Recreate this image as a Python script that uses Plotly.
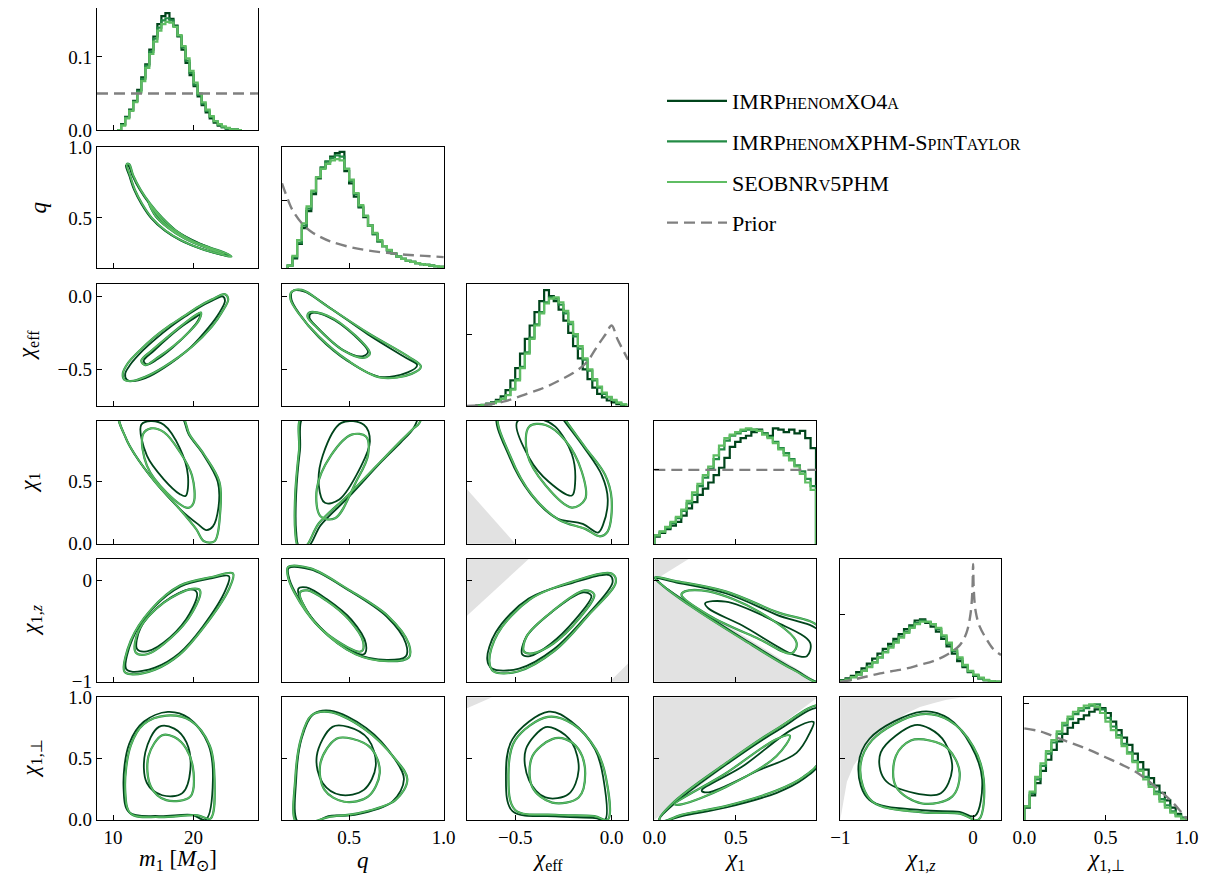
import plotly.graph_objects as go

# ------------------------------------------------------------------ data
MODELS = ["IMRPhenomXO4a", "IMRPhenomXPHM-SpinTaylor", "SEOBNRv5PHM"]
LEGEND_TEXT = [
    'IMRP<span style="font-size:16px">HENOM</span>XO4<span style="font-size:16px">A</span>',
    'IMRP<span style="font-size:16px">HENOM</span>XPHM-S<span style="font-size:16px">PIN</span>T<span style="font-size:16px">AYLOR</span>',
    'SEOBNR<span style="font-size:16px">V</span>5PHM',
]
COLORS = ["#00441b", "#238b45", "#5fbd63"]
PRIOR_COLOR = "#808080"
SHADE_COLOR = "#e2e2e2"

PARAMS = ["m1", "q", "chi_eff", "chi1", "chi1z", "chi1perp"]
LABELS = ["<i>m</i><sub>1</sub> [<i>M</i><sub>⊙</sub>]", "<i>q</i>", "<i>χ</i><sub>eff</sub>",
          "<i>χ</i><sub>1</sub>", "<i>χ</i><sub>1,<i>z</i></sub>", "<i>χ</i><sub>1,⊥</sub>"]
RANGE = {"m1": [8, 28], "q": [0.145, 1.002], "chi_eff": [-0.75, 0.085],
         "chi1": [-0.002, 0.99], "chi1z": [-1.002, 0.21], "chi1perp": [-0.002, 1.002]}
TICKS = {"m1": [10, 20], "q": [0.5, 1.0], "chi_eff": [-0.5, 0.0], "chi1": [0.0, 0.5],
         "chi1z": [-1, 0], "chi1perp": [0.0, 0.5, 1.0]}
TICKTEXT = {"m1": ["10", "20"], "q": ["0.5", "1.0"], "chi_eff": ["−0.5", "0.0"],
            "chi1": ["0.0", "0.5"], "chi1z": ["−1", "0"], "chi1perp": ["0.0", "0.5", "1.0"]}

# 1-D histograms (bin start, bin width, heights per model)
M1_BIN = (10.5, 0.5)
M1_A = [0.0, 0.008, 0.018, 0.028, 0.040, 0.055, 0.072, 0.090, 0.110, 0.128, 0.145, 0.156, 0.160, 0.152, 0.143, 0.128,
        0.110, 0.092, 0.075, 0.060, 0.046, 0.034, 0.024, 0.016, 0.010, 0.006, 0.004, 0.002, 0.001, 0.0005, 0.0]
M1_B = [0.0, 0.007, 0.017, 0.027, 0.039, 0.053, 0.070, 0.088, 0.107, 0.125, 0.140, 0.150, 0.153, 0.150, 0.142, 0.129,
        0.113, 0.095, 0.078, 0.062, 0.048, 0.036, 0.026, 0.018, 0.012, 0.007, 0.004, 0.002, 0.001, 0.0005, 0.0]
M1_C = [0.0, 0.006, 0.016, 0.026, 0.038, 0.051, 0.067, 0.085, 0.104, 0.121, 0.136, 0.145, 0.148, 0.147, 0.141, 0.130,
        0.115, 0.098, 0.081, 0.065, 0.050, 0.038, 0.028, 0.019, 0.012, 0.008, 0.005, 0.003, 0.001, 0.0005, 0.0]
M1_PRIOR_X = [8, 28]
M1_PRIOR_Y = [0.05, 0.05]

Q_BIN = (0.175, 0.025)
Q_A = [0.02, 0.08, 0.20, 0.33, 0.47, 0.61, 0.74, 0.83, 0.88, 0.92, 0.95, 0.96, 0.80, 0.70, 0.59, 0.50, 0.42,
       0.35, 0.28, 0.22, 0.18, 0.145, 0.12, 0.095, 0.075, 0.06, 0.05, 0.04, 0.032, 0.026, 0.02, 0.015, 0.01]
Q_B = [0.02, 0.09, 0.21, 0.35, 0.49, 0.63, 0.75, 0.83, 0.88, 0.91, 0.93, 0.92, 0.82, 0.72, 0.61, 0.51, 0.43,
       0.35, 0.28, 0.22, 0.18, 0.145, 0.12, 0.095, 0.075, 0.06, 0.05, 0.04, 0.032, 0.026, 0.02, 0.015, 0.01]
Q_C = [0.02, 0.10, 0.23, 0.37, 0.51, 0.64, 0.75, 0.82, 0.86, 0.89, 0.90, 0.89, 0.82, 0.73, 0.62, 0.52, 0.43,
       0.35, 0.29, 0.23, 0.18, 0.15, 0.12, 0.095, 0.075, 0.06, 0.05, 0.04, 0.032, 0.026, 0.02, 0.015, 0.01]
Q_PRIOR_X = [0.145, 0.18, 0.2, 0.25, 0.3, 0.35, 0.4, 0.5, 0.6, 0.7, 0.8, 0.9, 1.0]
Q_PRIOR_Y = [0.70, 0.55, 0.48, 0.37, 0.30, 0.255, 0.22, 0.175, 0.145, 0.125, 0.11, 0.10, 0.09]

CE_BIN = (-0.725, 0.025)
CE_A = [0.0, 0.005, 0.01, 0.02, 0.03, 0.05, 0.08, 0.13, 0.21, 0.31, 0.43, 0.55, 0.66, 0.77, 0.86, 0.95,
        0.90, 0.86, 0.79, 0.70, 0.60, 0.49, 0.39, 0.30, 0.22, 0.15, 0.10, 0.07, 0.045, 0.03, 0.015, 0.008]
CE_B = [0.0, 0.004, 0.008, 0.015, 0.025, 0.04, 0.06, 0.09, 0.14, 0.22, 0.32, 0.44, 0.56, 0.67, 0.77, 0.85,
        0.89, 0.88, 0.83, 0.76, 0.67, 0.57, 0.47, 0.38, 0.29, 0.21, 0.15, 0.10, 0.07, 0.045, 0.025, 0.012]
CE_C = [0.0, 0.004, 0.008, 0.014, 0.024, 0.038, 0.058, 0.088, 0.135, 0.21, 0.31, 0.43, 0.55, 0.66, 0.76, 0.84,
        0.88, 0.89, 0.85, 0.78, 0.69, 0.59, 0.49, 0.39, 0.30, 0.22, 0.16, 0.11, 0.075, 0.05, 0.028, 0.014]
CE_PRIOR_X = [-0.75, -0.65, -0.55, -0.44, -0.35, -0.27, -0.2, -0.134, -0.066, -0.03, 0.0, 0.03, 0.085]
CE_PRIOR_Y = [0.0, 0.01, 0.04, 0.10, 0.15, 0.21, 0.27, 0.35, 0.51, 0.59, 0.66, 0.55, 0.38]

C1_BIN = (0.0, 0.033)
C1_A = [0.06, 0.09, 0.12, 0.15, 0.18, 0.23, 0.29, 0.34, 0.40, 0.45, 0.50, 0.56, 0.62, 0.70, 0.79,
        0.83, 0.86, 0.88, 0.91, 0.93, 0.90, 0.88, 0.94, 0.93, 0.91, 0.93, 0.90, 0.92, 0.86, 0.78]
C1_B = [0.07, 0.10, 0.13, 0.17, 0.21, 0.27, 0.33, 0.40, 0.47, 0.54, 0.61, 0.69, 0.77, 0.84, 0.88,
        0.90, 0.92, 0.93, 0.93, 0.92, 0.90, 0.87, 0.83, 0.78, 0.74, 0.69, 0.64, 0.59, 0.53, 0.47]
C1_C = [0.07, 0.10, 0.14, 0.18, 0.22, 0.28, 0.35, 0.42, 0.49, 0.56, 0.63, 0.72, 0.80, 0.86, 0.89,
        0.91, 0.93, 0.94, 0.93, 0.92, 0.89, 0.86, 0.82, 0.77, 0.72, 0.68, 0.63, 0.57, 0.50, 0.44]
C1_PRIOR_X = [0.0, 0.99]
C1_PRIOR_Y = [0.603, 0.603]

CZ_BIN = (-1.0, 0.04)
CZ_A = [0.015, 0.03, 0.05, 0.08, 0.11, 0.15, 0.19, 0.23, 0.27, 0.31, 0.35, 0.39, 0.43, 0.46, 0.50,
        0.51, 0.48, 0.45, 0.41, 0.35, 0.29, 0.23, 0.17, 0.12, 0.08, 0.05, 0.03, 0.015, 0.006, 0.002]
CZ_B = [0.01, 0.02, 0.04, 0.06, 0.09, 0.125, 0.16, 0.20, 0.245, 0.29, 0.33, 0.37, 0.41, 0.45, 0.48,
        0.50, 0.49, 0.47, 0.43, 0.37, 0.31, 0.25, 0.19, 0.13, 0.085, 0.055, 0.03, 0.015, 0.006, 0.002]
CZ_C = [0.01, 0.02, 0.04, 0.06, 0.09, 0.12, 0.16, 0.20, 0.24, 0.28, 0.32, 0.36, 0.40, 0.44, 0.47,
        0.49, 0.49, 0.47, 0.44, 0.38, 0.32, 0.26, 0.20, 0.14, 0.09, 0.06, 0.035, 0.018, 0.008, 0.003]
CZ_PRIOR_X = [-1.0, -0.9, -0.8, -0.7, -0.6, -0.5, -0.4, -0.3, -0.2, -0.1, -0.05, -0.02, -0.005, 0.0,
              0.005, 0.02, 0.05, 0.1, 0.15, 0.21]
CZ_PRIOR_Y = [0.0, 0.02, 0.045, 0.07, 0.09, 0.11, 0.14, 0.17, 0.22, 0.30, 0.40, 0.55, 0.75, 0.96,
              0.75, 0.57, 0.45, 0.35, 0.27, 0.22]

CP_BIN = (0.0, 0.0333)
CP_A = [0.10, 0.20, 0.30, 0.40, 0.49, 0.57, 0.64, 0.70, 0.75, 0.79, 0.82, 0.85, 0.88, 0.90, 0.91,
        0.87, 0.80, 0.73, 0.67, 0.61, 0.54, 0.47, 0.41, 0.34, 0.28, 0.22, 0.16, 0.10, 0.05, 0.02]
CP_B = [0.11, 0.22, 0.33, 0.44, 0.54, 0.63, 0.70, 0.77, 0.82, 0.86, 0.89, 0.91, 0.93, 0.94, 0.90,
        0.83, 0.76, 0.69, 0.62, 0.55, 0.48, 0.41, 0.35, 0.29, 0.23, 0.17, 0.12, 0.07, 0.035, 0.015]
CP_C = [0.11, 0.23, 0.35, 0.46, 0.56, 0.65, 0.72, 0.79, 0.84, 0.88, 0.91, 0.93, 0.94, 0.92, 0.87,
        0.80, 0.73, 0.67, 0.60, 0.54, 0.47, 0.40, 0.33, 0.27, 0.21, 0.15, 0.10, 0.06, 0.03, 0.01]
CP_PRIOR_X = [0.0, 0.1, 0.2, 0.3, 0.4, 0.5, 0.6, 0.7, 0.8, 0.9, 0.95, 1.0]
CP_PRIOR_Y = [0.745, 0.72, 0.67, 0.62, 0.57, 0.51, 0.45, 0.38, 0.28, 0.16, 0.09, 0.01]

DIAG_TICK = [None, 0.556, 0.583, 0.603, 0.547, 0.944]

# 2-D credible contours (50% and 90%); A = XO4a, G = the two green models
M1_Q_A90 = [(11.6, 0.87), (12.0, 0.80), (12.6, 0.70), (13.5, 0.60), (14.7, 0.50), (16.4, 0.41), (18.4, 0.34), (21, 0.28), (23.4, 0.24), (24.5, 0.23), (23.9, 0.25), (22, 0.29), (19.8, 0.345), (17.7, 0.415), (16.0, 0.505), (14.5, 0.60), (13.3, 0.70), (12.4, 0.80), (11.9, 0.87)]
M1_Q_G90 = [(11.7, 0.88), (12.1, 0.80), (12.7, 0.70), (13.6, 0.60), (14.8, 0.50), (16.5, 0.41), (18.5, 0.34), (21, 0.28), (23.5, 0.24), (24.7, 0.225), (24.0, 0.25), (22, 0.29), (19.8, 0.34), (17.8, 0.41), (16.1, 0.50), (14.6, 0.60), (13.4, 0.70), (12.5, 0.80), (12.0, 0.88)]
M1_Q_A50 = [(14.5, 0.60), (15.3, 0.51), (16.9, 0.43), (19, 0.355), (21.5, 0.295), (23.6, 0.25), (22.5, 0.275), (20.1, 0.325), (17.9, 0.395), (16.2, 0.475), (15.0, 0.555)]
M1_Q_G50 = [(14.4, 0.61), (15.2, 0.52), (16.8, 0.43), (19, 0.35), (21.5, 0.29), (23.8, 0.245), (22.6, 0.27), (20.2, 0.32), (18, 0.39), (16.3, 0.47), (15.0, 0.56)]

M1_CE_A90 = [(11.5, -0.53), (12.1, -0.47), (13.7, -0.37), (15.4, -0.285), (17.1, -0.21), (18.9, -0.14), (20.7, -0.075), (22.3, -0.03), (23.6, 0.0), (23.9, -0.03), (23.1, -0.12), (21.9, -0.21), (19.6, -0.35), (16.3, -0.49), (14, -0.56), (12.4, -0.58), (11.7, -0.57)]
M1_CE_G90 = [(11.2, -0.53), (11.8, -0.46), (13.5, -0.36), (15.2, -0.275), (17, -0.2), (18.8, -0.135), (20.6, -0.07), (22.3, -0.02), (23.9, 0.015), (24.3, -0.02), (23.5, -0.11), (22.3, -0.205), (19.8, -0.344), (16.3, -0.483), (14, -0.55), (12.2, -0.58), (11.4, -0.57)]
M1_CE_A50 = [(13.8, -0.44), (15.1, -0.37), (16.8, -0.285), (18.7, -0.2), (20.3, -0.14), (20.8, -0.125), (20.5, -0.17), (19.3, -0.25), (17.4, -0.35), (15.5, -0.43), (14.2, -0.465)]
M1_CE_G50 = [(13.5, -0.44), (14.8, -0.37), (16.5, -0.29), (18.5, -0.2), (20.2, -0.13), (20.9, -0.11), (20.7, -0.16), (19.5, -0.24), (17.5, -0.34), (15.5, -0.42), (14.0, -0.47)]

Q_CE_A90 = [(0.20, 0.035), (0.26, 0.035), (0.39, -0.07), (0.60, -0.26), (0.80, -0.42), (0.86, -0.47), (0.81, -0.52), (0.66, -0.55), (0.49, -0.44), (0.34, -0.28), (0.235, -0.115), (0.195, -0.02)]
Q_CE_G90 = [(0.195, 0.03), (0.25, 0.045), (0.383, -0.066), (0.60, -0.25), (0.816, -0.414), (0.88, -0.48), (0.83, -0.53), (0.665, -0.555), (0.491, -0.437), (0.34, -0.275), (0.231, -0.112), (0.19, -0.02)]
Q_CE_A50 = [(0.30, -0.115), (0.39, -0.14), (0.53, -0.27), (0.60, -0.38), (0.57, -0.41), (0.465, -0.365), (0.33, -0.21), (0.29, -0.145)]
Q_CE_G50 = [(0.29, -0.11), (0.383, -0.13), (0.535, -0.27), (0.61, -0.39), (0.58, -0.42), (0.47, -0.37), (0.32, -0.2), (0.28, -0.14)]

M1_C1_A90 = [(10.8, 1.05), (11.6, 0.85), (12.7, 0.72), (15.2, 0.5), (18.3, 0.28), (20.5, 0.16), (21.6, 0.11), (22.4, 0.14), (23.1, 0.3), (23.0, 0.5), (21.2, 0.72), (19.4, 0.88), (18.2, 1.05)]
M1_C1_G90 = [(10.8, 1.05), (11.6, 0.85), (12.7, 0.72), (15.2, 0.5), (18, 0.3), (20.3, 0.12), (21.3, 0.02), (22.6, 0.02), (23.3, 0.25), (23.2, 0.5), (21.3, 0.72), (19.5, 0.88), (18.3, 1.05)]
M1_C1_A50 = [(13.5, 0.96), (14.2, 0.71), (16.3, 0.52), (18.3, 0.40), (19.0, 0.385), (19.3, 0.55), (18.3, 0.77), (16.3, 0.96), (14.7, 0.99)]
M1_C1_G50 = [(13.7, 0.88), (14.2, 0.63), (16.7, 0.41), (19.3, 0.29), (20, 0.33), (19.8, 0.55), (18.3, 0.74), (16.3, 0.9), (14.7, 0.93)]

Q_C1_A90 = [(0.27, 1.05), (0.24, 0.75), (0.22, 0.4), (0.22, 0.1), (0.235, -0.02), (0.285, -0.02), (0.35, 0.15), (0.50, 0.38), (0.67, 0.66), (0.775, 0.82), (0.84, 0.93), (0.86, 1.05)]
Q_C1_G90 = [(0.26, 1.05), (0.235, 0.75), (0.215, 0.4), (0.215, 0.1), (0.23, -0.02), (0.27, -0.02), (0.34, 0.165), (0.49, 0.385), (0.665, 0.66), (0.77, 0.824), (0.84, 0.93), (0.87, 0.97), (0.88, 1.05)]
Q_C1_A50 = [(0.459, 0.975), (0.361, 0.714), (0.34, 0.467), (0.372, 0.33), (0.448, 0.357), (0.556, 0.604), (0.61, 0.824), (0.578, 0.96)]
Q_C1_G50 = [(0.513, 0.88), (0.405, 0.714), (0.329, 0.44), (0.35, 0.22), (0.426, 0.206), (0.535, 0.495), (0.6, 0.714), (0.589, 0.865)]

CE_C1_A90 = [(-0.59, 1.05), (-0.53, 0.70), (-0.42, 0.40), (-0.29, 0.21), (-0.15, 0.16), (-0.07, 0.09), (-0.045, 0.15), (-0.02, 0.36), (-0.05, 0.55), (-0.145, 0.78), (-0.25, 1.0), (-0.27, 1.05)]
CE_C1_G90 = [(-0.583, 1.05), (-0.522, 0.694), (-0.411, 0.389), (-0.274, 0.194), (-0.137, 0.12), (-0.06, 0.06), (-0.02, 0.1), (0.0, 0.361), (-0.034, 0.556), (-0.137, 0.778), (-0.24, 1.0), (-0.26, 1.05)]
CE_C1_A50 = [(-0.489, 0.986), (-0.428, 0.694), (-0.326, 0.5), (-0.206, 0.389), (-0.189, 0.5), (-0.206, 0.722), (-0.292, 0.944), (-0.36, 1.0)]
CE_C1_G50 = [(-0.428, 0.944), (-0.437, 0.722), (-0.343, 0.472), (-0.206, 0.292), (-0.137, 0.361), (-0.155, 0.583), (-0.24, 0.833), (-0.343, 0.958)]

M1_CZ_A90 = [(11.6, -0.87), (12.4, -0.58), (14.9, -0.28), (18.4, -0.06), (22.2, 0.02), (24.4, 0.04), (24.0, -0.09), (21.1, -0.46), (18.2, -0.72), (15.2, -0.86), (12.3, -0.90)]
M1_CZ_G90 = [(11.4, -0.898), (12.2, -0.593), (14.7, -0.289), (18.3, -0.051), (22.3, 0.033), (24.9, 0.067), (24.4, -0.085), (21.3, -0.458), (18.3, -0.729), (15.2, -0.88), (12.2, -0.925)]
M1_CZ_A50 = [(13.0, -0.68), (13.4, -0.47), (16.4, -0.21), (19.6, -0.09), (20.4, -0.12), (19.5, -0.33), (17.1, -0.56), (14.2, -0.70)]
M1_CZ_G50 = [(12.8, -0.71), (13.2, -0.492), (16.3, -0.221), (19.8, -0.085), (20.8, -0.1), (19.8, -0.322), (17.3, -0.559), (14.2, -0.729)]

Q_CZ_A90 = [(0.18, 0.12), (0.30, 0.105), (0.49, -0.09), (0.70, -0.36), (0.80, -0.62), (0.80, -0.75), (0.70, -0.785), (0.53, -0.72), (0.345, -0.46), (0.215, -0.12), (0.18, 0.04)]
Q_CZ_G90 = [(0.177, 0.13), (0.296, 0.118), (0.491, -0.085), (0.708, -0.356), (0.816, -0.627), (0.816, -0.76), (0.708, -0.797), (0.535, -0.729), (0.34, -0.458), (0.21, -0.119), (0.175, 0.05)]
Q_CZ_A50 = [(0.231, -0.085), (0.296, -0.356), (0.426, -0.593), (0.578, -0.729), (0.589, -0.627), (0.513, -0.39), (0.383, -0.187), (0.274, -0.07)]
Q_CZ_G50 = [(0.24, -0.12), (0.30, -0.37), (0.43, -0.59), (0.565, -0.70), (0.575, -0.61), (0.50, -0.39), (0.38, -0.20), (0.28, -0.10)]

CE_CZ_A90 = [(-0.645, -0.78), (-0.60, -0.51), (-0.43, -0.18), (-0.21, -0.03), (-0.01, 0.05), (0.005, -0.02), (-0.13, -0.35), (-0.30, -0.68), (-0.48, -0.87), (-0.62, -0.87)]
CE_CZ_G90 = [(-0.634, -0.797), (-0.591, -0.526), (-0.423, -0.187), (-0.21, -0.017), (0.0, 0.067), (0.022, -0.017), (-0.126, -0.356), (-0.296, -0.695), (-0.486, -0.898), (-0.612, -0.898)]
CE_CZ_A50 = [(-0.464, -0.729), (-0.443, -0.559), (-0.317, -0.322), (-0.147, -0.119), (-0.105, -0.153), (-0.19, -0.39), (-0.317, -0.627), (-0.423, -0.746)]
CE_CZ_G50 = [(-0.455, -0.70), (-0.44, -0.55), (-0.31, -0.31), (-0.14, -0.10), (-0.09, -0.14), (-0.17, -0.38), (-0.30, -0.62), (-0.41, -0.72)]

C1_CZ_A90 = [(0.005, 0.02), (0.13, -0.02), (0.44, -0.13), (0.75, -0.34), (1.02, -0.52), (1.02, -1.0), (0.86, -0.88), (0.545, -0.575), (0.235, -0.255), (0.05, -0.05)]
C1_CZ_G90 = [(0.005, 0.03), (0.124, -0.005), (0.436, -0.109), (0.747, -0.311), (1.02, -0.48), (1.02, -1.0), (0.85, -0.88), (0.539, -0.58), (0.228, -0.26), (0.05, -0.05)]
C1_CZ_A50 = [(0.311, -0.227), (0.436, -0.21), (0.747, -0.412), (0.954, -0.614), (0.934, -0.748), (0.85, -0.731), (0.539, -0.446), (0.332, -0.278)]
C1_CZ_G50 = [(0.187, -0.109), (0.332, -0.109), (0.643, -0.311), (0.871, -0.614), (0.84, -0.72), (0.643, -0.58), (0.332, -0.344), (0.166, -0.143)]

M1_CP_A90 = [(16.8, 0.88), (13.8, 0.80), (12.0, 0.62), (11.3, 0.26), (12.0, 0.06), (15.7, 0.03), (19.8, 0.04), (21.5, 0.0), (22.4, 0.33), (21.8, 0.62), (19.4, 0.83)]
M1_CP_G90 = [(16.6, 0.85), (13.8, 0.78), (12.2, 0.606), (11.5, 0.244), (12.2, 0.05), (15.7, 0.022), (20.5, 0.036), (22.1, 0.01), (22.6, 0.33), (22, 0.606), (19.6, 0.81)]
M1_CP_A50 = [(15.7, 0.758), (14, 0.55), (14.2, 0.3), (16.1, 0.2), (18.6, 0.217), (19.6, 0.41), (19.1, 0.633), (17.6, 0.744)]
M1_CP_G50 = [(16.1, 0.69), (14.4, 0.52), (14.7, 0.27), (16.6, 0.16), (19.6, 0.19), (20, 0.383), (19.1, 0.578), (17.6, 0.675)]

Q_CP_A90 = [(0.23, -0.02), (0.22, 0.33), (0.25, 0.67), (0.31, 0.86), (0.40, 0.89), (0.59, 0.75), (0.74, 0.50), (0.79, 0.33), (0.73, 0.15), (0.53, 0.04), (0.39, 0.03), (0.32, -0.02)]
Q_CP_G90 = [(0.22, -0.02), (0.215, 0.33), (0.245, 0.66), (0.30, 0.85), (0.39, 0.88), (0.578, 0.744), (0.745, 0.494), (0.808, 0.33), (0.745, 0.161), (0.537, 0.05), (0.39, 0.022), (0.30, -0.02)]
Q_CP_A50 = [(0.412, 0.758), (0.329, 0.522), (0.36, 0.3), (0.454, 0.203), (0.578, 0.244), (0.641, 0.439), (0.6, 0.661), (0.495, 0.758)]
Q_CP_G50 = [(0.433, 0.661), (0.349, 0.467), (0.37, 0.244), (0.474, 0.147), (0.6, 0.189), (0.662, 0.383), (0.62, 0.578), (0.516, 0.661)]

CE_CP_A90 = [(-0.326, 0.882), (-0.514, 0.658), (-0.548, 0.35), (-0.514, 0.07), (-0.292, 0.028), (-0.086, 0.014), (-0.034, 0.0), (-0.044, 0.35), (-0.086, 0.574), (-0.206, 0.798)]
CE_CP_G90 = [(-0.33, 0.84), (-0.50, 0.65), (-0.535, 0.35), (-0.50, 0.08), (-0.29, 0.04), (-0.09, 0.03), (-0.02, 0.0), (-0.03, 0.35), (-0.08, 0.57), (-0.20, 0.78)]
CE_CP_A50 = [(-0.343, 0.756), (-0.445, 0.574), (-0.428, 0.322), (-0.343, 0.182), (-0.223, 0.21), (-0.171, 0.406), (-0.206, 0.63), (-0.292, 0.742)]
CE_CP_G50 = [(-0.308, 0.658), (-0.411, 0.518), (-0.411, 0.266), (-0.308, 0.14), (-0.171, 0.182), (-0.137, 0.378), (-0.171, 0.574), (-0.24, 0.658)]

C1_CP_A90 = [(0.03, 0.0), (0.13, 0.14), (0.44, 0.45), (0.75, 0.725), (1.02, 0.91), (1.02, 0.48), (0.91, 0.33), (0.75, 0.22), (0.44, 0.10), (0.17, 0.03), (0.06, -0.01)]
C1_CP_G90 = [(0.03, 0.0), (0.124, 0.15), (0.436, 0.46), (0.747, 0.74), (1.02, 0.93), (1.02, 0.50), (0.913, 0.35), (0.747, 0.238), (0.436, 0.112), (0.166, 0.04), (0.06, -0.01)]
C1_CP_A50 = [(0.29, 0.238), (0.539, 0.434), (0.85, 0.742), (0.975, 0.798), (0.954, 0.714), (0.871, 0.546), (0.643, 0.406), (0.332, 0.224)]
C1_CP_G50 = [(0.124, 0.126), (0.436, 0.378), (0.747, 0.658), (0.83, 0.686), (0.747, 0.518), (0.436, 0.266), (0.166, 0.126)]

CZ_CP_A90 = [(-0.384, 0.883), (-0.78, 0.661), (-0.864, 0.411), (-0.78, 0.161), (-0.384, 0.078), (-0.101, 0.064), (0.012, 0.03), (0.068, 0.328), (-0.016, 0.606), (-0.186, 0.828)]
CZ_CP_G90 = [(-0.40, 0.86), (-0.76, 0.65), (-0.85, 0.41), (-0.76, 0.15), (-0.38, 0.06), (-0.10, 0.05), (0.04, 0.0), (0.08, 0.33), (0.0, 0.60), (-0.18, 0.81)]
CZ_CP_A50 = [(-0.44, 0.772), (-0.695, 0.55), (-0.666, 0.328), (-0.44, 0.217), (-0.243, 0.217), (-0.158, 0.411), (-0.213, 0.633), (-0.327, 0.744)]
CZ_CP_G50 = [(-0.469, 0.647), (-0.581, 0.522), (-0.581, 0.272), (-0.384, 0.133), (-0.158, 0.189), (-0.101, 0.383), (-0.186, 0.578), (-0.327, 0.647)]

# excluded (unphysical) regions, shaded grey
SH_CE_C1 = [[(-0.75, 0.0), (-0.75, 0.44), (-0.50, 0.0)]]
SH_CE_CZ = [[(-0.75, 0.21), (-0.43, 0.21), (-0.75, -0.35)], [(0.085, -1.0), (-0.01, -1.0), (0.085, -0.82)]]
SH_C1_CZ = [[(0, 0), (1, -1), (0, -1)], [(0, 0), (0, 0.21), (0.21, 0.21)]]
SH_CE_CP = [[(-0.75, 1.0), (-0.62, 1.0), (-0.75, 0.91)]]
SH_C1_CP = [[(0, 0), (0, 1), (1, 1)]]
SH_CZ_CP = [[(-1, 0), (-0.95, 0.31), (-0.9, 0.44), (-0.8, 0.6), (-0.7, 0.71), (-0.6, 0.8), (-0.5, 0.87),
             (-0.4, 0.92), (-0.3, 0.95), (-0.2, 0.98), (-0.1, 0.995), (0, 1.0), (-1, 1.0)]]

# ------------------------------------------------------------------ layout / structure
PAGE_OFFSET = 8                    # default page margin around the plot div
W, H = 1211 - 2 * PAGE_OFFSET, 890 - 2 * PAGE_OFFSET
FONT = "Liberation Serif"
# panel boxes in window pixels
COL_PX = [(97, 258), (282, 444), (467, 628), (654, 816), (840, 1001), (1024, 1187)]
ROW_PX = [(8, 130), (147, 268), (284, 406), (421, 544), (559, 682), (697, 820)]
YTITLE_X = [None, 38, 28, 30, 31, 31]
XTITLE_Y = 860


def fx(px):
    return (px - PAGE_OFFSET) / W


def fy(py):
    return 1 - (py - PAGE_OFFSET) / H


HISTS = [
    (M1_BIN, [M1_A, M1_B, M1_C], M1_PRIOR_X, M1_PRIOR_Y),
    (Q_BIN, [Q_A, Q_B, Q_C], Q_PRIOR_X, Q_PRIOR_Y),
    (CE_BIN, [CE_A, CE_B, CE_C], CE_PRIOR_X, CE_PRIOR_Y),
    (C1_BIN, [C1_A, C1_B, C1_C], C1_PRIOR_X, C1_PRIOR_Y),
    (CZ_BIN, [CZ_A, CZ_B, CZ_C], CZ_PRIOR_X, CZ_PRIOR_Y),
    (CP_BIN, [CP_A, CP_B, CP_C], CP_PRIOR_X, CP_PRIOR_Y),
]
CONTOURS = {
    (1, 0): (M1_Q_A90, M1_Q_A50, M1_Q_G90, M1_Q_G50),
    (2, 0): (M1_CE_A90, M1_CE_A50, M1_CE_G90, M1_CE_G50),
    (2, 1): (Q_CE_A90, Q_CE_A50, Q_CE_G90, Q_CE_G50),
    (3, 0): (M1_C1_A90, M1_C1_A50, M1_C1_G90, M1_C1_G50),
    (3, 1): (Q_C1_A90, Q_C1_A50, Q_C1_G90, Q_C1_G50),
    (3, 2): (CE_C1_A90, CE_C1_A50, CE_C1_G90, CE_C1_G50),
    (4, 0): (M1_CZ_A90, M1_CZ_A50, M1_CZ_G90, M1_CZ_G50),
    (4, 1): (Q_CZ_A90, Q_CZ_A50, Q_CZ_G90, Q_CZ_G50),
    (4, 2): (CE_CZ_A90, CE_CZ_A50, CE_CZ_G90, CE_CZ_G50),
    (4, 3): (C1_CZ_A90, C1_CZ_A50, C1_CZ_G90, C1_CZ_G50),
    (5, 0): (M1_CP_A90, M1_CP_A50, M1_CP_G90, M1_CP_G50),
    (5, 1): (Q_CP_A90, Q_CP_A50, Q_CP_G90, Q_CP_G50),
    (5, 2): (CE_CP_A90, CE_CP_A50, CE_CP_G90, CE_CP_G50),
    (5, 3): (C1_CP_A90, C1_CP_A50, C1_CP_G90, C1_CP_G50),
    (5, 4): (CZ_CP_A90, CZ_CP_A50, CZ_CP_G90, CZ_CP_G50),
}
SHADES = {(3, 2): SH_CE_C1, (4, 2): SH_CE_CZ, (4, 3): SH_C1_CZ,
          (5, 2): SH_CE_CP, (5, 3): SH_C1_CP, (5, 4): SH_CZ_CP}

fig = go.Figure()
axes = {}
layout_axes = {}
annotations = []
k = 0
for r in range(6):
    for c in range(r + 1):
        k += 1
        xa = "x" if k == 1 else f"x{k}"
        ya = "y" if k == 1 else f"y{k}"
        axes[(r, c)] = (xa, ya)
        x0, x1 = COL_PX[c]
        y0, y1 = ROW_PX[r]
        common = dict(showline=True, linecolor="black", linewidth=1.4, mirror=True,
                      ticks="inside", ticklen=5, tickwidth=1.2, tickcolor="black",
                      showgrid=False, zeroline=False, fixedrange=True, automargin=False,
                      tickfont=dict(family=FONT, size=19, color="black"))
        xp = PARAMS[c]
        xd = dict(common, domain=[fx(x0), fx(x1)], anchor=ya, range=RANGE[xp],
                  tickmode="array", tickvals=TICKS[xp], ticktext=TICKTEXT[xp],
                  showticklabels=(r == 5))
        if r == c:
            if r == 0:
                yvals, ytext, yr = [0.0, 0.1], ["0.0", "0.1"], [0, 0.167]
            else:
                yvals, ytext, yr = [DIAG_TICK[r]], [""], [0, 1.0]
        else:
            yp = PARAMS[r]
            yvals, ytext, yr = TICKS[yp], TICKTEXT[yp], RANGE[yp]
        yd = dict(common, domain=[fy(y1), fy(y0)], anchor=xa, range=yr,
                  tickmode="array", tickvals=yvals, ticktext=ytext, showticklabels=(c == 0))
        layout_axes["xaxis" if k == 1 else f"xaxis{k}"] = xd
        layout_axes["yaxis" if k == 1 else f"yaxis{k}"] = yd

# axis labels (placed like matplotlib's aligned corner-plot labels)
for c in range(6):
    x0, x1 = COL_PX[c]
    annotations.append(dict(text=LABELS[c], xref="paper", yref="paper", x=fx((x0 + x1) / 2),
                            y=fy(XTITLE_Y), xanchor="center", yanchor="middle", showarrow=False,
                            font=dict(family=FONT, size=23, color="black")))
for r in range(1, 6):
    y0, y1 = ROW_PX[r]
    annotations.append(dict(text=LABELS[r], xref="paper", yref="paper", x=fx(YTITLE_X[r]),
                            y=fy((y0 + y1) / 2), xanchor="center", yanchor="middle",
                            textangle=-90, showarrow=False,
                            font=dict(family=FONT, size=23, color="black")))


def closed(pts):
    xs = [p[0] for p in pts] + [pts[0][0]]
    ys = [p[1] for p in pts] + [pts[0][1]]
    return xs, ys


# diagonal histograms
for i, (binfo, series, px, py) in enumerate(HISTS):
    xa, ya = axes[(i, i)]
    start, width = binfo
    for m, vals in enumerate(series):
        edges = [start + j * width for j in range(len(vals) + 1)]
        xs = [edges[0]] + edges[:-1] + [edges[-1]]
        ys = [0] + list(vals) + [0]
        fig.add_trace(go.Scatter(x=xs, y=ys, mode="lines", xaxis=xa, yaxis=ya,
                                 line=dict(color=COLORS[m], width=2.2, shape="hv"),
                                 name=LEGEND_TEXT[m], legendgroup=MODELS[m],
                                 showlegend=(i == 0), hoverinfo="skip"))
    fig.add_trace(go.Scatter(x=px, y=py, mode="lines", xaxis=xa, yaxis=ya,
                             line=dict(color=PRIOR_COLOR, width=2.4, dash="11px,6px", shape="spline"),
                             name="Prior", legendgroup="prior", showlegend=(i == 0), hoverinfo="skip"))

# shaded regions
for key, polys in SHADES.items():
    xa, ya = axes[key]
    for poly in polys:
        xs, ys = closed(poly)
        fig.add_trace(go.Scatter(x=xs, y=ys, mode="lines", fill="toself", fillcolor=SHADE_COLOR,
                                 line=dict(width=0, color=SHADE_COLOR), xaxis=xa, yaxis=ya,
                                 showlegend=False, hoverinfo="skip"))

# contours
for key, (a90, a50, g90, g50) in CONTOURS.items():
    xa, ya = axes[key]
    for m, (c90, c50, w) in enumerate([(a90, a50, 1.8), (g90, g50, 2.2), (g90, g50, 1.3)]):
        for cont in (c90, c50):
            xs, ys = closed(cont)
            fig.add_trace(go.Scatter(x=xs, y=ys, mode="lines", xaxis=xa, yaxis=ya,
                                     line=dict(color=COLORS[m], width=w, shape="spline", smoothing=1.0),
                                     legendgroup=MODELS[m], showlegend=False, hoverinfo="skip"))

fig.update_layout(
    width=W, height=H, margin=dict(l=0, r=0, t=0, b=0, pad=0, autoexpand=False),
    paper_bgcolor="white", plot_bgcolor="white",
    font=dict(family=FONT, size=19, color="black"),
    showlegend=True,
    legend=dict(x=fx(662), y=fy(80), xanchor="left", yanchor="top",
                font=dict(family=FONT, size=22, color="black"),
                bgcolor="rgba(0,0,0,0)", borderwidth=0, itemwidth=60,
                tracegroupgap=9, traceorder="grouped"),
    annotations=annotations,
    **layout_axes,
)

fig.write_html("out.html")
